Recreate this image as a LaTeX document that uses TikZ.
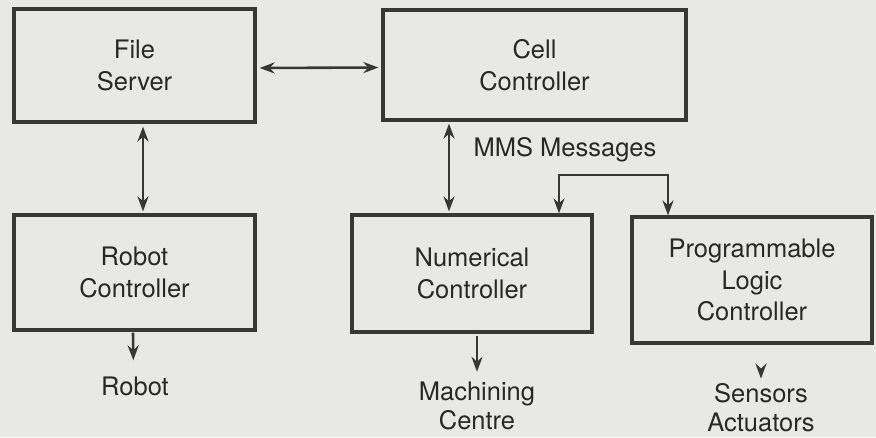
\documentclass[tikz,border=0pt]{standalone}
\usepackage{fontspec}
\setmainfont{TeX Gyre Heros}
\usetikzlibrary{arrows.meta}
\definecolor{paper}{RGB}{232,232,230}
\definecolor{ink}{RGB}{55,55,55}
\definecolor{txt}{RGB}{40,40,40}
\begin{document}
\begin{tikzpicture}[x=1pt,y=-1pt,
  box/.style={draw=ink, line width=3.2pt, rectangle, inner sep=0pt, align=center,
    text=txt, font=\fontsize{25.5}{31.5}\selectfont},
  lbl/.style={align=center, text=txt, font=\fontsize{25.5}{29}\selectfont, inner sep=0pt},
  conn/.style={draw=ink, line width=2.6pt, {Stealth[length=15pt,width=11pt]}-{Stealth[length=15pt,width=11pt]}},
  oneway/.style={draw=ink, line width=2.6pt, -{Stealth[length=15pt,width=11pt]}}]
\fill[paper] (0,0) rectangle (876,437);
\useasboundingbox (0,0) rectangle (876,437);
\node[box, minimum width=241pt, minimum height=113pt] (fs) at (134.5,65.5) {File\\Server};
\node[box, minimum width=303pt, minimum height=110pt] (cc) at (534.5,65) {Cell\\Controller};
\node[box, minimum width=241pt, minimum height=115pt] (rc) at (134.5,272.5) {Robot\\Controller};
\node[box, minimum width=240pt, minimum height=117pt] (nc) at (472,273.5) {Numerical\\Controller};
\node[box, minimum width=240pt, minimum height=126pt] (plc) at (752,280) {Programmable\\Logic\\Controller};
\node[lbl] (mms) at (565,150) {MMS Messages};
\node[lbl] (robot) at (135,386) {Robot};
\node[lbl] (mc) at (477,406) {Machining\\Centre};
\node[lbl] (sa) at (761,408) {Sensors\\Actuators};
\coordinate (b1) at (559,175);
\coordinate (b2) at (668,175);
\draw[conn, shorten <=3pt, shorten >=3pt] ([yshift=-2.5pt]fs.east) -- ([yshift=-2.5pt]cc.west);
\draw[conn, shorten <=3pt, shorten >=2pt] ([xshift=8.5pt]fs.south) -- ([xshift=8.5pt]rc.north);
\draw[conn, shorten <=2pt, shorten >=2pt] ([xshift=-85.5pt]cc.south) -- ([xshift=-23pt]nc.north);
\draw[conn] (b1 |- nc.north) -- (b1) -- (b2) -- (b2 |- plc.north);
\draw[oneway, shorten <=1pt, shorten >=16pt] ([xshift=-1.5pt]rc.south) -- ([xshift=-1.5pt]robot.north);
\draw[oneway, shorten <=2pt, shorten >=10pt] ([xshift=5pt]nc.south) -- (mc.north);
\draw[oneway, shorten <=25pt, shorten >=5pt] ([xshift=9pt]plc.south) -- (sa.north);
\end{tikzpicture}
\end{document}
